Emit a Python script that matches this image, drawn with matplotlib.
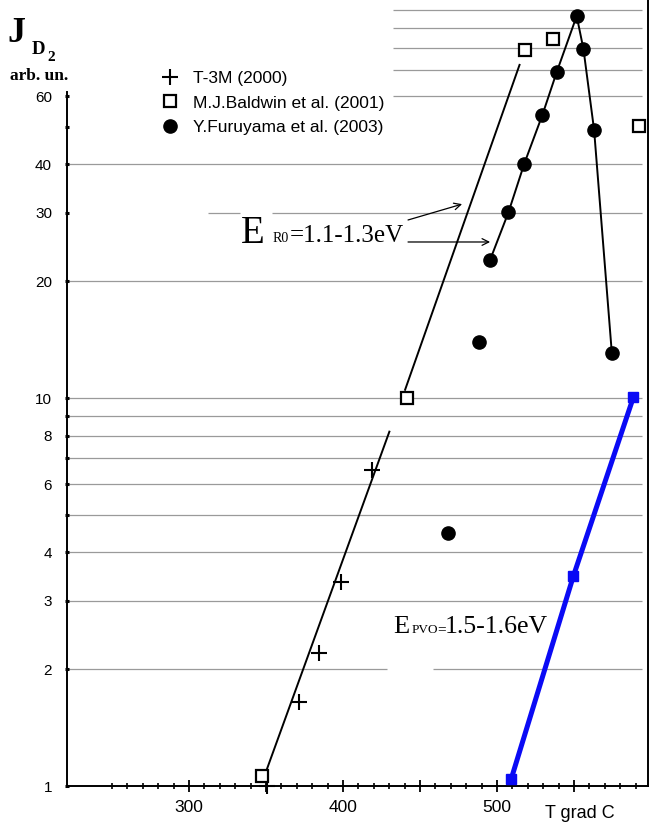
import numpy as np
import matplotlib
matplotlib.use("Agg")
import matplotlib.pyplot as plt
from matplotlib.ticker import FixedLocator, FixedFormatter, NullFormatter

# --- data ---
t3m_T = [350.4, 371.4, 384.4, 398.7, 419.1]
t3m_J = [1.0, 1.65, 2.20, 3.36, 6.52]
t3m_fit_T = [350.4, 430.1]
t3m_fit_J = [1.10, 8.19]

baldwin_T = [347.2, 441.3, 518.2, 536.6, 592.4]
baldwin_J = [1.06, 10.0, 79.0, 84.2, 50.2]
baldwin_fit_T = [440.3, 514.6]
baldwin_fit_J = [10.5, 72.2]

furuyama_T = [467.9, 488.5, 495.5, 507.4, 517.7, 529.4, 538.8, 551.7, 556.1, 563.0, 574.5]
furuyama_J = [4.50, 13.97, 22.7, 30.1, 40.2, 53.6, 69.3, 96.5, 79.3, 49.1, 13.09]

pvo_T = [509.1, 549.6, 588.5]
pvo_J = [1.04, 3.48, 10.04]

ytick_vals = [1, 2, 3, 4, 5, 6, 7, 8, 9, 10, 20, 30, 40, 50, 60]
ytick_labels = ['1', '2', '3', '4', '', '6', '', '8', '', '10', '20', '30', '40', '', '60']
xtick_major = [300, 350, 400, 450, 500, 550]
xtick_labels = ['300', '', '400', '', '500', '']

W, H = 649, 822
fig = plt.figure(figsize=(W / 100, H / 100), dpi=100)
ax = fig.add_axes([67 / W, 36 / H, 581 / W, 786 / H])

def px(x, y):
    return x / W, 1 - y / H

XMIN, XMAX = 220.8, 598.0
ax.set_xlim(XMIN, XMAX)
ax.set_yscale('log')
ax.set_ylim(1, 10 ** (786 / 388))

# horizontal grid lines (some are only partly drawn in the original)
grid_c = '#9a9a9a'
for v in [3, 4, 5, 6, 7, 8, 9, 10, 20, 40]:
    ax.hlines(v, XMIN, 594.2, color=grid_c, lw=0.9, zorder=1)
for v in [60, 70, 80, 90, 100]:
    ax.hlines(v, 432.5, 594.2, color=grid_c, lw=0.9, zorder=1)
ax.hlines(2, XMIN, 428.6, color=grid_c, lw=0.9, zorder=1)
ax.hlines(2, 458.4, 594.2, color=grid_c, lw=0.9, zorder=1)
ax.hlines(30, 312.3, 333.1, color=grid_c, lw=0.9, zorder=1)
ax.hlines(30, 353.9, 594.2, color=grid_c, lw=0.9, zorder=1)

# fitted lines
ax.plot(t3m_fit_T, t3m_fit_J, color='black', lw=1.4, zorder=3)
ax.plot(baldwin_fit_T, baldwin_fit_J, color='black', lw=1.4, zorder=3)
ax.plot(furuyama_T[2:], furuyama_J[2:], color='black', lw=1.4, zorder=3)
ax.plot(pvo_T, pvo_J, color='#0a0af5', lw=3.6, marker='s', ms=7,
        zorder=4, clip_on=False)

# data points
h1, = ax.plot(t3m_T, t3m_J, ls='none', marker='+', ms=11, mew=1.5,
              color='black', zorder=5, clip_on=False, label='T-3M (2000)')
h2, = ax.plot(baldwin_T, baldwin_J, ls='none', marker='s', ms=9, mew=1.6,
              mfc='white', mec='black', zorder=5, clip_on=False,
              label='M.J.Baldwin et al. (2001)')
h3, = ax.plot(furuyama_T, furuyama_J, ls='none', marker='o', ms=9.5,
              color='black', zorder=6, clip_on=False,
              label='Y.Furuyama et al. (2003)')

leg = ax.legend(handles=[h1, h2, h3], loc='upper left',
                bbox_to_anchor=px(153, 62), bbox_transform=fig.transFigure,
                frameon=False, borderpad=0, handlelength=1.0,
                handletextpad=0.8, labelspacing=0.55,
                prop={'family': 'Liberation Sans', 'size': 12.5})

# spines
for s in ['left', 'bottom', 'right']:
    ax.spines[s].set_linewidth(1.4)
ax.spines['top'].set_visible(False)
ax.spines['left'].set_bounds(1, 61.5)

# ticks
ax.yaxis.set_major_locator(FixedLocator(ytick_vals))
ax.yaxis.set_major_formatter(FixedFormatter(ytick_labels))
ax.yaxis.set_minor_locator(FixedLocator([]))
ax.yaxis.set_minor_formatter(NullFormatter())
ax.tick_params(axis='y', which='major', direction='inout', length=3.5, width=2.2,
               pad=9, labelsize=11)
ax.xaxis.set_major_locator(FixedLocator(xtick_major))
ax.xaxis.set_major_formatter(FixedFormatter(xtick_labels))
ax.xaxis.set_minor_locator(FixedLocator(list(range(250, 600, 10))))
ax.tick_params(axis='x', which='major', direction='inout', length=8, width=1.3,
               pad=6, labelsize=12.5)
ax.tick_params(axis='x', which='minor', direction='inout', length=5, width=1.2)
for lab in ax.get_xticklabels() + ax.get_yticklabels():
    lab.set_family('Liberation Sans')

fig.text(*px(580, 818), 'T grad C', ha='center', va='baseline',
         family='Liberation Sans', fontsize=13)

# y axis title
serif = 'Liberation Serif'
fig.text(*px(7, 42), 'J', family=serif, weight='bold', fontsize=26, va='baseline')
fig.text(*px(32, 54), 'D', family=serif, weight='bold', fontsize=13.5, va='baseline')
fig.text(*px(47, 61), '2', family=serif, weight='bold', fontsize=11, va='baseline')
fig.text(*px(10, 80), 'arb. un.', family=serif, weight='bold', fontsize=12.5,
         va='baseline')

# activation energy labels
fig.text(*px(241, 243), 'E', family=serif, fontsize=28, va='baseline')
fig.text(*px(273, 242), 'R0', family=serif, fontsize=10, va='baseline')
fig.text(*px(290, 242), '=1.1-1.3eV', family=serif, fontsize=18, va='baseline')
ax.annotate('', xy=(477.3, 31.6), xytext=(442.2, 28.76),
            arrowprops=dict(arrowstyle='->', color='black', lw=0.9,
                            shrinkA=0, shrinkB=0, mutation_scale=12))
ax.annotate('', xy=(495.5, 25.24), xytext=(442.2, 25.24),
            arrowprops=dict(arrowstyle='->', color='black', lw=0.9,
                            shrinkA=0, shrinkB=0, mutation_scale=12))

fig.text(*px(393, 633), 'E', family=serif, fontsize=19, va='baseline')
fig.text(*px(412, 633), 'PVO', family=serif, fontsize=9.5, va='baseline')
fig.text(*px(437, 633), '=', family=serif, fontsize=11, va='baseline')
fig.text(*px(445, 633), '1.5-1.6eV', family=serif, fontsize=18.5, va='baseline')

fig.savefig('out.png', dpi=100)
